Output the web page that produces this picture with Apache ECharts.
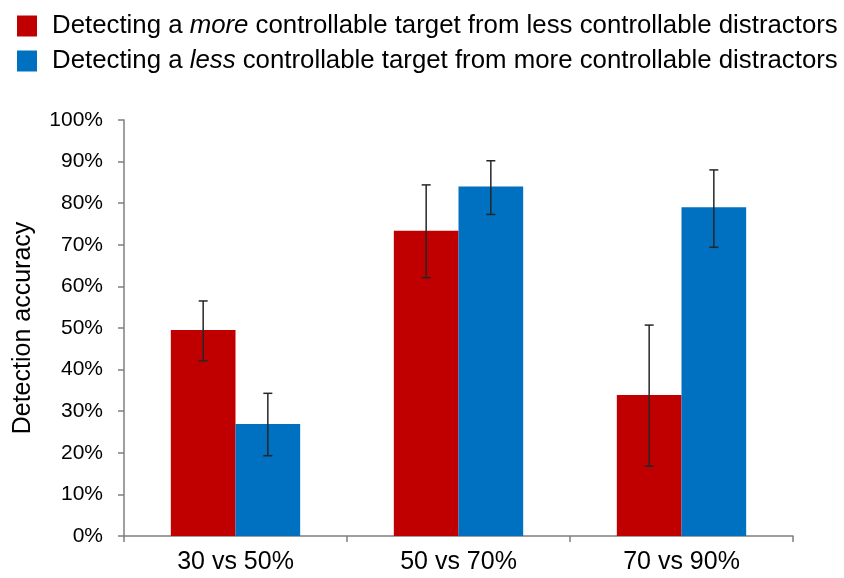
<!DOCTYPE html>
<html>
<head>
<meta charset="utf-8">
<script src="https://cdn.jsdelivr.net/npm/echarts@6/dist/echarts.min.js"></script>
<style>
  html, body { margin: 0; padding: 0; background: #fff; }
  #chart { width: 844px; height: 578px; }
</style>
</head>
<body>
<div id="chart"></div>
<script>
// Conditions on the x axis
const categories = ['30 vs 50%', '50 vs 70%', '70 vs 90%'];

// Mean detection accuracy (%)
const moreControllable = [49.5, 73.4, 33.9];
const lessControllable = [26.9, 84.0, 79.0];

// Error bar extents (%): [low, high]
const moreErr = [[42.1, 56.5], [62.1, 84.4], [16.8, 50.7]];
const lessErr = [[19.3, 34.3], [77.3, 90.2], [69.4, 88.0]];

// Y axis ticks
const yMin = 0, yMax = 100, yStep = 10;

const seriesNames = [
  'Detecting a {i|more} controllable target from less controllable distractors',
  'Detecting a {i|less} controllable target from more controllable distractors'
];

const FONT = 'Liberation Sans, Arial, sans-serif';
const RED = '#C00000';
const BLUE = '#0070C0';
const CATEGORY_GAP = 0.42;

function errorBarSeries(errs, side) {
  return {
    type: 'custom',
    silent: true,
    z: 5,
    data: errs.map((e, i) => [i, e[0], e[1]]),
    renderItem: function (params, api) {
      const idx = api.value(0);
      const band = api.size([1, 0])[0];
      const barW = band * (1 - CATEGORY_GAP) / 2;
      const lo = api.coord([idx, api.value(1)]);
      const hi = api.coord([idx, api.value(2)]);
      const x = lo[0] + side * barW / 2;
      const cap = 4.5;
      const style = { stroke: '#262626', lineWidth: 1.5 };
      return {
        type: 'group',
        children: [
          { type: 'line', shape: { x1: x, y1: lo[1], x2: x, y2: hi[1] }, style },
          { type: 'line', shape: { x1: x - cap, y1: lo[1], x2: x + cap, y2: lo[1] }, style },
          { type: 'line', shape: { x1: x - cap, y1: hi[1], x2: x + cap, y2: hi[1] }, style }
        ]
      };
    }
  };
}

const chart = echarts.init(document.getElementById('chart'), null, { renderer: 'canvas' });

chart.setOption({
  backgroundColor: '#ffffff',
  animation: false,
  textStyle: { fontFamily: FONT },
  legend: {
    orient: 'vertical',
    left: 17,
    top: 13,
    padding: 0,
    itemWidth: 20,
    itemHeight: 21,
    itemGap: 9,
    icon: 'rect',
    data: [seriesNames[0], seriesNames[1]],
    formatter: function (name) { return name; },
    textStyle: {
      fontFamily: FONT,
      fontSize: 25.8,
      lineHeight: 21,
      color: '#000',
      padding: [0, 0, 0, 10],
      rich: {
        i: { fontFamily: FONT, fontSize: 25.8, lineHeight: 21, fontStyle: 'italic', color: '#000' }
      }
    }
  },
  grid: {
    left: 124,
    right: 51,
    top: 120,
    bottom: 42,
    containLabel: false,
    outerBoundsMode: 'none'
  },
  xAxis: {
    type: 'category',
    data: categories,
    axisLine: { lineStyle: { color: '#7f7f7f', width: 1.5 } },
    axisTick: { show: true, length: 6, lineStyle: { color: '#7f7f7f', width: 1.5 } },
    axisLabel: { fontFamily: FONT, fontSize: 25, color: '#000', margin: 14 }
  },
  yAxis: {
    type: 'value',
    min: yMin,
    max: yMax,
    interval: yStep,
    name: 'Detection accuracy',
    nameLocation: 'middle',
    nameGap: 88,
    nameTextStyle: { fontFamily: FONT, fontSize: 25, color: '#000' },
    axisLine: { show: true, lineStyle: { color: '#7f7f7f', width: 1.5 } },
    axisTick: { show: true, length: 6, lineStyle: { color: '#7f7f7f', width: 1.5 } },
    splitLine: { show: false },
    axisLabel: {
      fontFamily: FONT,
      fontSize: 21,
      color: '#000',
      margin: 21,
      formatter: '{value}%'
    }
  },
  series: [
    {
      name: seriesNames[0],
      type: 'bar',
      data: moreControllable,
      itemStyle: { color: RED },
      barGap: '0%',
      barCategoryGap: (CATEGORY_GAP * 100) + '%'
    },
    {
      name: seriesNames[1],
      type: 'bar',
      data: lessControllable,
      itemStyle: { color: BLUE },
      barGap: '0%',
      barCategoryGap: (CATEGORY_GAP * 100) + '%'
    },
    errorBarSeries(moreErr, -1),
    errorBarSeries(lessErr, 1)
  ]
});
</script>
</body>
</html>
